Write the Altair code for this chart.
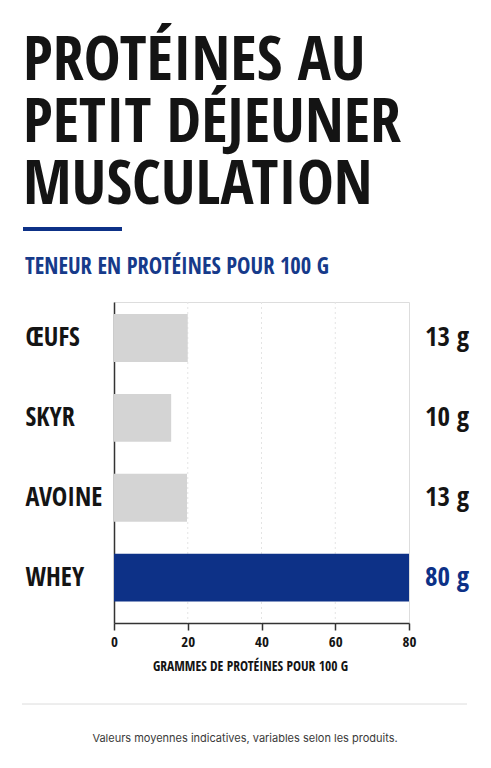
import altair as alt
import pandas as pd

# ---- data ----
categories = ["ŒUFS", "SKYR", "AVOINE", "WHEY"]
bar_values = [20, 15.5, 19.8, 80]          # bar lengths as drawn (g / 100 g scale)
value_labels = ["13 g", "10 g", "13 g", "80 g"]
highlight = ["autre", "autre", "autre", "whey"]
x_ticks = [0, 20, 40, 60, 80]
grid_values = [20, 40, 60]

title_lines = ["PROTÉINES AU", "PETIT DÉJEUNER", "MUSCULATION"]
subtitle = "TENEUR EN PROTÉINES POUR 100 G"
x_title = "GRAMMES DE PROTÉINES POUR 100 G"
footer = "Valeurs moyennes indicatives, variables selon les produits."

COND = "Open Sans Condensed, Roboto Condensed, Liberation Sans Narrow, sans-serif"
BLUE = "#0d3187"
SUB_BLUE = "#163a8a"
GRAY_BAR = "#d4d4d4"
INK = "#141414"

W, H = 295, 321

df = pd.DataFrame({"cat": categories, "val": bar_values, "lab": value_labels, "hl": highlight})

y_enc = alt.Y("cat:N", sort=categories,
              scale=alt.Scale(paddingInner=0.4, paddingOuter=0.21, align=0.36),
              axis=alt.Axis(title=None, ticks=False, labelAlign="left", labelPadding=89,
                            labelFont=COND, labelFontWeight=800, labelFontSize=26,
                            labelColor=INK, domainColor="#333333", domainWidth=1.5))

x_scale = alt.Scale(domain=[0, 80], nice=False)

bars = alt.Chart(df).mark_bar().encode(
    x=alt.X("val:Q", scale=x_scale,
            axis=alt.Axis(title=x_title, values=x_ticks, grid=False, labelFlush=False,
                          domainColor="#333333", domainWidth=1.5,
                          tickColor="#333333", tickSize=7, tickWidth=1.5,
                          labelFont=COND, labelFontWeight="bold", labelFontSize=15,
                          labelColor=INK, labelPadding=4,
                          titleFont=COND, titleFontWeight="bold", titleFontSize=13.5,
                          titleColor=INK, titlePadding=10, titleX=136)),
    y=y_enc,
    color=alt.Color("hl:N", scale=alt.Scale(domain=["autre", "whey"], range=[GRAY_BAR, BLUE]),
                    legend=None),
)

grid = alt.Chart(pd.DataFrame({"g": grid_values})).mark_rule(
    color="#e4e4e4", strokeDash=[2, 3], strokeWidth=1
).encode(x=alt.X("g:Q", scale=x_scale), y=alt.value(0), y2=alt.value(H))

labels = alt.Chart(df).mark_text(
    font=COND, fontWeight=800, fontSize=27, align="center", baseline="middle"
).encode(
    x=alt.value(333),
    y=alt.Y("cat:N", sort=categories),
    text="lab:N",
    color=alt.condition(alt.datum.hl == "whey", alt.value(BLUE), alt.value(INK)),
)

one = pd.DataFrame({"k": [0]})

title = alt.Chart(one).mark_text(
    font=COND, fontWeight=800, fontSize=62, align="left", baseline="alphabetic",
    lineHeight=62, color=INK
).encode(x=alt.value(-91), y=alt.value(-222), text=alt.value(title_lines))

accent = alt.Chart(one).mark_rule(color=BLUE, strokeWidth=4).encode(
    x=alt.value(-91), x2=alt.value(8), y=alt.value(-73))

sub = alt.Chart(one).mark_text(
    font=COND, fontWeight="bold", fontSize=22.5, align="left", baseline="alphabetic",
    color=SUB_BLUE
).encode(x=alt.value(-89), y=alt.value(-28), text=alt.value(subtitle))

sep = alt.Chart(one).mark_rule(color="#dcdcdc", strokeWidth=1).encode(
    x=alt.value(-92), x2=alt.value(353), y=alt.value(402))

foot = alt.Chart(one).mark_text(
    font="Inter, sans-serif", fontSize=11, align="center", baseline="middle", color="#3a3a3a"
).encode(x=alt.value(131), y=alt.value(437), text=alt.value(footer))

chart = alt.layer(grid, bars, labels, title, accent, sub, sep, foot).properties(
    width=W, height=H,
    autosize=alt.AutoSizeParams(type="none"),
    padding={"left": 106, "top": 294, "right": 74, "bottom": 137},
).configure_view(stroke=None).configure(background="white")

chart.save("out.html", embed_options={"renderer": "svg", "actions": False})
